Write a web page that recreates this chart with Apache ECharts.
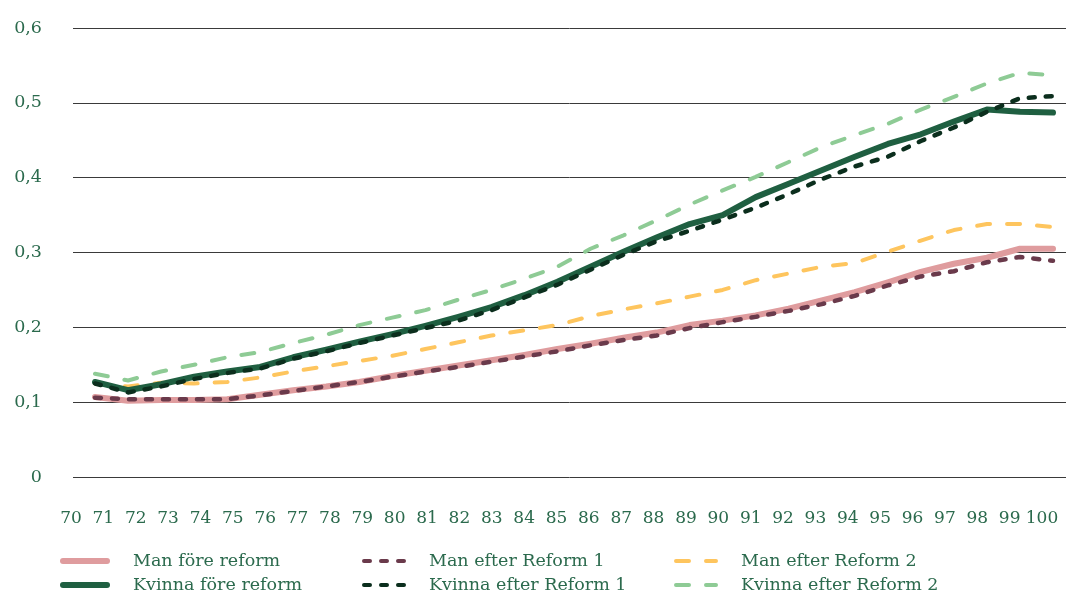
<!DOCTYPE html>
<html>
<head>
<meta charset="utf-8">
<script src="https://cdn.jsdelivr.net/npm/echarts@6/dist/echarts.min.js"></script>
<style>
html,body{margin:0;padding:0;background:#fff;}
#chart{width:1066px;height:594px;}
</style>
</head>
<body>
<div id="chart"></div>
<script>
// Ages with data (71..100)
var ages = ['71','72','73','74','75','76','77','78','79','80','81','82','83','84','85','86','87','88','89','90','91','92','93','94','95','96','97','98','99','100'];
// X tick labels (70..100)
var xTickLabels = ['70','71','72','73','74','75','76','77','78','79','80','81','82','83','84','85','86','87','88','89','90','91','92','93','94','95','96','97','98','99','100'];
// Y tick values
var yTicks = [0, 0.1, 0.2, 0.3, 0.4, 0.5, 0.6];

var manFore = [0.107,0.102,0.103,0.103,0.104,0.110,0.116,0.121,0.127,0.135,0.142,0.149,0.156,0.163,0.171,0.178,0.186,0.193,0.203,0.209,0.216,0.225,0.236,0.247,0.260,0.274,0.285,0.293,0.305,0.305];
var kvinnaFore = [0.127,0.116,0.124,0.134,0.141,0.147,0.160,0.170,0.181,0.191,0.202,0.214,0.227,0.243,0.261,0.281,0.301,0.320,0.338,0.350,0.374,0.392,0.410,0.428,0.445,0.458,0.475,0.491,0.488,0.487];
var manR1 = [0.106,0.104,0.104,0.104,0.104,0.109,0.115,0.121,0.127,0.134,0.141,0.147,0.154,0.161,0.168,0.176,0.183,0.189,0.199,0.207,0.214,0.222,0.231,0.242,0.256,0.268,0.275,0.287,0.294,0.289];
var kvinnaR1 = [0.125,0.113,0.121,0.131,0.139,0.145,0.158,0.168,0.179,0.189,0.199,0.209,0.223,0.240,0.257,0.277,0.297,0.315,0.329,0.344,0.360,0.378,0.398,0.415,0.428,0.449,0.467,0.488,0.506,0.509];
var manR2 = [0.125,0.121,0.126,0.125,0.127,0.133,0.141,0.148,0.155,0.162,0.171,0.180,0.189,0.196,0.203,0.215,0.224,0.232,0.241,0.250,0.263,0.272,0.281,0.286,0.301,0.316,0.330,0.338,0.338,0.334];
var kvinnaR2 = [0.138,0.129,0.141,0.150,0.160,0.167,0.179,0.190,0.203,0.213,0.223,0.237,0.250,0.265,0.281,0.305,0.323,0.343,0.364,0.383,0.401,0.421,0.441,0.457,0.472,0.491,0.508,0.526,0.540,0.537];

var seriesNames = ['Man före reform','Kvinna före reform','Man efter Reform 1','Kvinna efter Reform 1','Man efter Reform 2','Kvinna efter Reform 2'];

var textColor = '#2b6a4d';
var fontFamily = 'DejaVu Serif';

function mkSeries(name, data, color, width, dash) {
  return {
    name: name, type: 'line', data: data,
    xAxisIndex: 1, yAxisIndex: 1,
    symbol: 'none', smooth: false,
    lineStyle: { color: color, width: width, type: dash || 'solid', cap: 'round', join: 'round' },
    itemStyle: { color: color },
    emphasis: { disabled: true }
  };
}

function mkLegend(left, itemWidth, pad, lineWidth, names) {
  return {
    orient: 'vertical', left: left, top: 547, height: 60,
    itemWidth: itemWidth, itemHeight: 14, itemGap: 6,
    itemStyle: { opacity: 0, borderWidth: 0 },
    lineStyle: { width: lineWidth, cap: 'round' },
    textStyle: { color: textColor, fontFamily: fontFamily, fontSize: 17.5, lineHeight: 14, padding: [0, 0, 0, pad] },
    selectedMode: false,
    data: names
  };
}

var option = {
  animation: false,
  backgroundColor: '#ffffff',
  grid: [
    { left: 73, right: 0, top: 28, bottom: 117 },
    { left: 95, right: 13, top: 28, bottom: 117 },
    { left: 71, right: 24, top: 28, bottom: 117 }
  ],
  legend: [
    mkLegend(55, 44, 21, 6, [seriesNames[0], seriesNames[1]]),
    mkLegend(357, 40, 20, 4, [seriesNames[2], seriesNames[3]]),
    mkLegend(669, 40, 20, 4, [seriesNames[4], seriesNames[5]])
  ],
  xAxis: [
    { gridIndex: 0, type: 'category', data: xTickLabels, show: false },
    { gridIndex: 1, type: 'category', data: ages, boundaryGap: false, show: false },
    { gridIndex: 2, type: 'category', data: xTickLabels, boundaryGap: false,
      axisLine: { show: false }, axisTick: { show: false }, splitLine: { show: false },
      axisLabel: { color: textColor, fontFamily: fontFamily, fontSize: 17, margin: 33, interval: 0 } }
  ],
  yAxis: [
    { gridIndex: 0, type: 'value', min: yTicks[0], max: yTicks[yTicks.length-1], interval: 0.1,
      axisLine: { show: false }, axisTick: { show: false },
      splitLine: { lineStyle: { color: '#3a3a3a', width: 1 } },
      axisLabel: { color: textColor, fontFamily: fontFamily, fontSize: 17.5, margin: 31,
        formatter: function (v) { return v === 0 ? '0' : (Math.round(v*10)/10).toFixed(1).replace('.', ','); } } },
    { gridIndex: 1, type: 'value', min: yTicks[0], max: yTicks[yTicks.length-1], show: false },
    { gridIndex: 2, type: 'value', min: yTicks[0], max: yTicks[yTicks.length-1], show: false }
  ],
  series: [
    mkSeries(seriesNames[4], manR2, '#fec55e', 4, [13, 17]),
    mkSeries(seriesNames[0], manFore, '#df9c9e', 6),
    mkSeries(seriesNames[1], kvinnaFore, '#1f5f41', 6),
    mkSeries(seriesNames[2], manR1, '#6a3a4b', 4.5, [6, 11]),
    mkSeries(seriesNames[3], kvinnaR1, '#0b2e1d', 4.5, [6, 11]),
    mkSeries(seriesNames[5], kvinnaR2, '#8ecb95', 4, [13, 17])
  ]
};

var chart = echarts.init(document.getElementById('chart'), null, { renderer: 'canvas' });
chart.setOption(option);
</script>
</body>
</html>
